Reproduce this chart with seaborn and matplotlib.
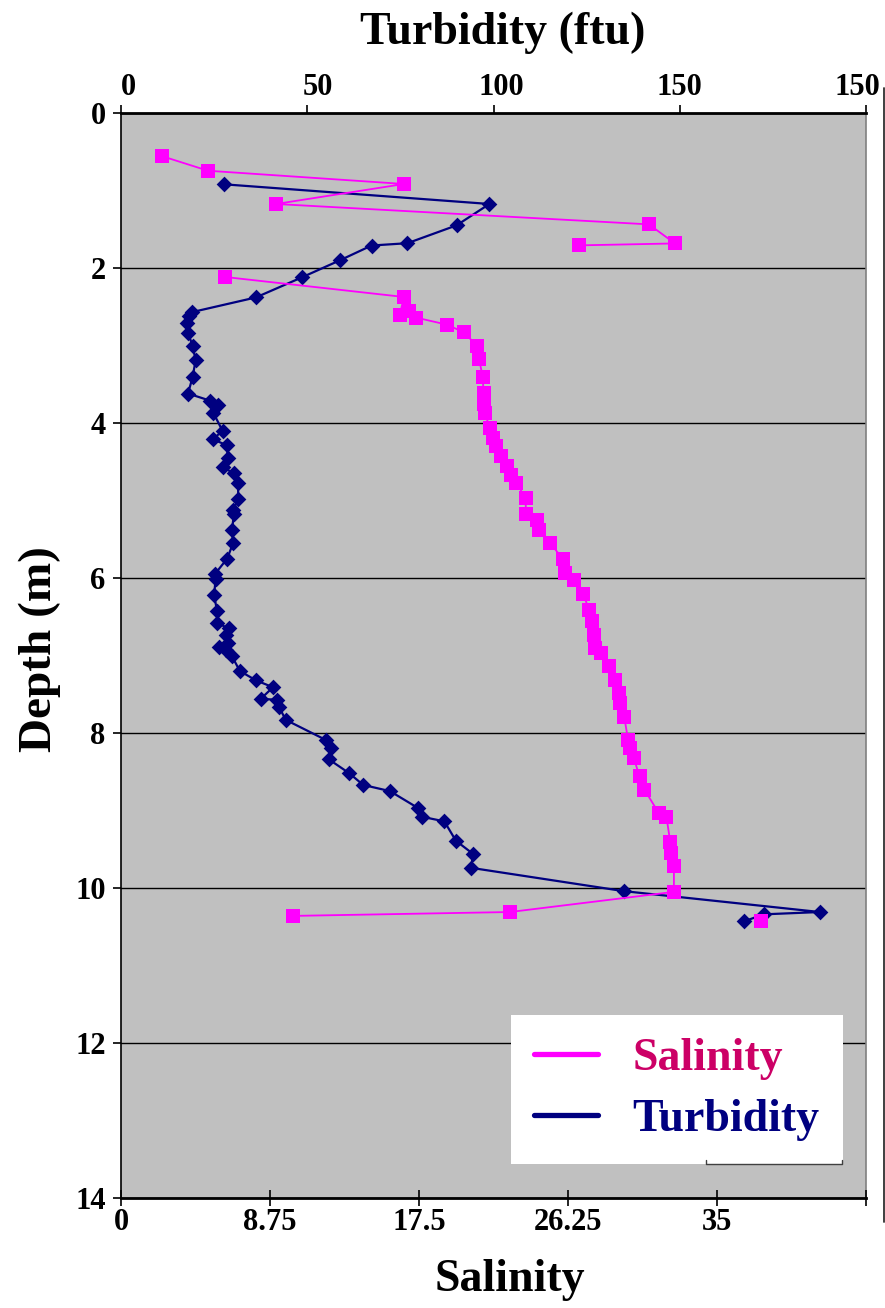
import numpy as np
import pandas as pd
import matplotlib
matplotlib.use("Agg")
import matplotlib.pyplot as plt
import matplotlib.transforms as mtransforms
from matplotlib.lines import Line2D
import seaborn as sns

# Salinity profile; NaN marks a break between unconnected runs of readings
sal_depth = [0.555, 0.745, 0.916, 1.174, 1.437, 1.683, 1.708, np.nan,
             2.116, 2.374, 2.61, 2.56, 2.64, 2.73, 2.83, 3.00, 3.17, 3.40,
             3.61, 3.76, 3.87, 4.06, 4.19, 4.30, 4.43, 4.56, 4.67, 4.77,
             4.97, 5.18, 5.25, 5.38, 5.55, 5.76, 5.94, 6.02, 6.20, 6.41,
             6.56, 6.73, 6.90, 6.97, 7.14, 7.31, 7.48, 7.61, 7.79, 8.09,
             8.19, 8.32, 8.56, 8.73, 9.03, 9.08, 9.40, 9.55, 9.72, 10.05,
             10.31, 10.36, np.nan,
             10.43]
sal_value = [2.38, 5.11, 16.62, 9.10, 31.00, 32.53, 26.89, np.nan,
             6.11, 16.62, 16.36, 16.92, 17.33, 19.12, 20.14, 20.88, 21.02, 21.24,
             21.29, 21.31, 21.35, 21.67, 21.82, 22.03, 22.30, 22.65, 22.90, 23.22,
             23.76, 23.78, 24.41, 24.52, 25.21, 25.96, 26.07, 26.59, 27.13, 27.49,
             27.64, 27.80, 27.82, 28.20, 28.66, 28.99, 29.22, 29.33, 29.55, 29.78,
             29.89, 30.11, 30.45, 30.74, 31.57, 32.03, 32.25, 32.30, 32.47, 32.47,
             22.84, 10.12, np.nan,
             37.59]

# Turbidity profile
turb_depth = [0.92, 1.174, 1.45, 1.68, 1.71, 1.90, 2.12, 2.38, 2.57, 2.62,
              2.71, 2.84, 3.00, 3.19, 3.41, 3.62, 3.71, 3.77, 3.87, 4.10,
              4.21, 4.29, 4.45, 4.57, 4.65, 4.77, 4.98, 5.12, 5.18, 5.38,
              5.55, 5.75, 5.95, 6.01, 6.22, 6.43, 6.58, 6.65, 6.74, 6.84,
              6.89, 6.93, 7.01, 7.20, 7.32, 7.41, 7.56, 7.57, 7.66, 7.83,
              8.09, 8.19, 8.34, 8.52, 8.67, 8.75, 8.97, 9.08, 9.14, 9.39,
              9.56, 9.74, 10.04, 10.31, 10.34, 10.43]
turb_value = [27.65, 98.9, 90.07, 76.9, 67.25, 58.8, 48.6, 36.2, 19.0, 18.2,
              17.8, 18.0, 19.2, 20.05, 19.2, 18.0, 23.8, 26.0, 24.8, 27.25,
              24.7, 28.5, 28.6, 27.25, 30.4, 31.4, 31.5, 30.1, 30.3, 29.8,
              30.1, 28.5, 25.2, 25.4, 25.0, 25.8, 25.8, 28.9, 28.3, 28.6,
              26.2, 28.3, 29.8, 31.9, 36.2, 40.8, 37.5, 41.8, 42.4, 44.2,
              55.0, 56.5, 55.8, 61.3, 65.0, 72.2, 79.8, 80.7, 86.8, 89.9,
              94.5, 94.0, 134.9, 187.6, 172.5, 167.3]

sal_ticks = [0, 8.75, 17.5, 26.25, 35, 43.75]
sal_ticklabels = ["0", "8.75", "17.5", "26.25", "35", ""]
turb_ticks = [0, 50, 100, 150, 200]
turb_ticklabels = ["0", "50", "100", "150", "150"]
depth_ticks = [0, 2, 4, 6, 8, 10, 12, 14]

sns.set_theme(style="white")
plt.rcParams["font.family"] = ["Liberation Serif", "DejaVu Serif"]
plt.rcParams["font.weight"] = "bold"
plt.rcParams["axes.labelweight"] = "bold"
plt.rcParams["text.color"] = "black"
plt.rcParams["axes.labelcolor"] = "black"
plt.rcParams["xtick.color"] = "black"
plt.rcParams["ytick.color"] = "black"

SAL_COLOR = "#FF00FF"
TURB_COLOR = "#000080"
W, H = 885, 1308

sal = pd.DataFrame({"depth": sal_depth, "salinity": sal_value})
sal["run"] = sal["salinity"].isna().cumsum()
sal = sal.dropna().reset_index(drop=True)
turb = pd.DataFrame({"depth": turb_depth, "turbidity": turb_value})

fig = plt.figure(figsize=(W / 100, H / 100), dpi=100)
ax = fig.add_axes([121 / W, 1 - 1198 / H, 745 / W, 1085 / H])
ax.set_facecolor("#C0C0C0")
ax_s = ax.twiny()

# Turbidity on the primary axes (scale along the top)
sns.lineplot(data=turb, x="turbidity", y="depth", sort=False, estimator=None,
             color=TURB_COLOR, lw=1.6, ax=ax, zorder=2)
sns.scatterplot(data=turb, x="turbidity", y="depth", marker="D", s=64,
                color=TURB_COLOR, linewidth=0, ax=ax, zorder=3)

# Salinity on the twin axes (scale along the bottom)
sns.lineplot(data=sal, x="salinity", y="depth", units="run", sort=False,
             estimator=None, color=SAL_COLOR, lw=1.3, ax=ax_s, zorder=2)
sns.scatterplot(data=sal, x="salinity", y="depth", marker="s", s=105,
                color=SAL_COLOR, linewidth=0, ax=ax_s, zorder=3)

ax.set_xlim(0, 200)
ax_s.set_xlim(0, 43.75)
ax.set_ylim(14, 0)

# Horizontal grid only
ax.set_axisbelow(True)
ax.yaxis.grid(True, color="black", lw=1.0)
ax.xaxis.grid(False)
ax_s.grid(False)

# Top (turbidity) axis
ax.xaxis.tick_top()
ax.xaxis.set_label_position("top")
ax.set_xticks(turb_ticks)
ax.set_xticklabels(turb_ticklabels)
ax.tick_params(axis="x", which="major", direction="out", length=6, width=1.2,
               top=True, bottom=False, labeltop=True, labelbottom=False,
               labelsize=22, pad=2, color="black", labelcolor="black")
offsets_px = [7, 11, 8, 0, -9]
for lab, dx in zip(ax.get_xticklabels(), offsets_px):
    lab.set_transform(lab.get_transform() +
                      mtransforms.ScaledTranslation(dx / 100, 0, fig.dpi_scale_trans))

# Depth axis
ax.set_yticks(depth_ticks)
ax.set_yticklabels([str(d) for d in depth_ticks])
ax.tick_params(axis="y", direction="out", length=6, width=1.2, left=True,
               labelsize=22, pad=5, color="black", labelcolor="black")

# Bottom (salinity) axis
ax_s.xaxis.tick_bottom()
ax_s.xaxis.set_label_position("bottom")
ax_s.set_xticks(sal_ticks)
ax_s.set_xticklabels(sal_ticklabels)
ax_s.tick_params(axis="x", direction="inout", length=12, width=1.2,
                 bottom=True, top=False, labelbottom=True, labeltop=False,
                 labelsize=22, pad=1, color="black", labelcolor="black")

for name, sp in ax.spines.items():
    sp.set_visible(True)
    sp.set_color("black")
    sp.set_linewidth(1.2)
ax.spines["top"].set_linewidth(2.0)
ax.spines["bottom"].set_linewidth(2.0)
ax.spines["right"].set_color("#808080")
for sp in ax_s.spines.values():
    sp.set_visible(False)

# Axis titles
ax.set_xlabel("Turbidity (ftu)", fontsize=33, fontweight="bold", color="black")
ax.xaxis.set_label_coords(0.513, 1.0737)
ax.xaxis.label.set_va("center")
ax_s.set_xlabel("Salinity", fontsize=33, fontweight="bold", color="black")
ax_s.xaxis.set_label_coords(0.522, -0.0756)
ax_s.xaxis.label.set_va("center")
ax.set_ylabel("Depth (m)", fontsize=34, fontweight="bold", color="black")
ax.yaxis.set_label_coords(-0.1087, 0.506)
ax.yaxis.label.set_va("center")
ax_s.set_ylabel("")

# Legend
handles = [Line2D([], [], color=SAL_COLOR, lw=3.8),
           Line2D([], [], color=TURB_COLOR, lw=3.8)]
leg = ax_s.legend(handles, ["Salinity", "Turbidity"], loc="upper left",
                  bbox_to_anchor=(0.5235, 0.1687), frameon=True, fancybox=False,
                  framealpha=1, facecolor="white", edgecolor="white",
                  prop={"size": 33, "weight": "bold"}, handlelength=1.4,
                  handletextpad=0.75, borderpad=0.5, labelspacing=0.42,
                  borderaxespad=0)
leg.get_frame().set_linewidth(0)
leg.get_texts()[0].set_color("#CC0066")
leg.get_texts()[1].set_color(TURB_COLOR)
leg.set_zorder(10)

# Chart frame edge on the right and small shadow bracket under the legend
fig.add_artist(Line2D([884 / W, 884 / W], [1 - 88 / H, 1 - 1222 / H],
                      transform=fig.transFigure, color="#303030", lw=1.3))
fig.add_artist(Line2D([706 / W, 706 / W, 842 / W, 842 / W],
                      [1 - 1160 / H, 1 - 1163.5 / H, 1 - 1163.5 / H, 1 - 1160 / H],
                      transform=fig.transFigure, color="#404040", lw=1.0))

fig.savefig("out.png", dpi=100)
